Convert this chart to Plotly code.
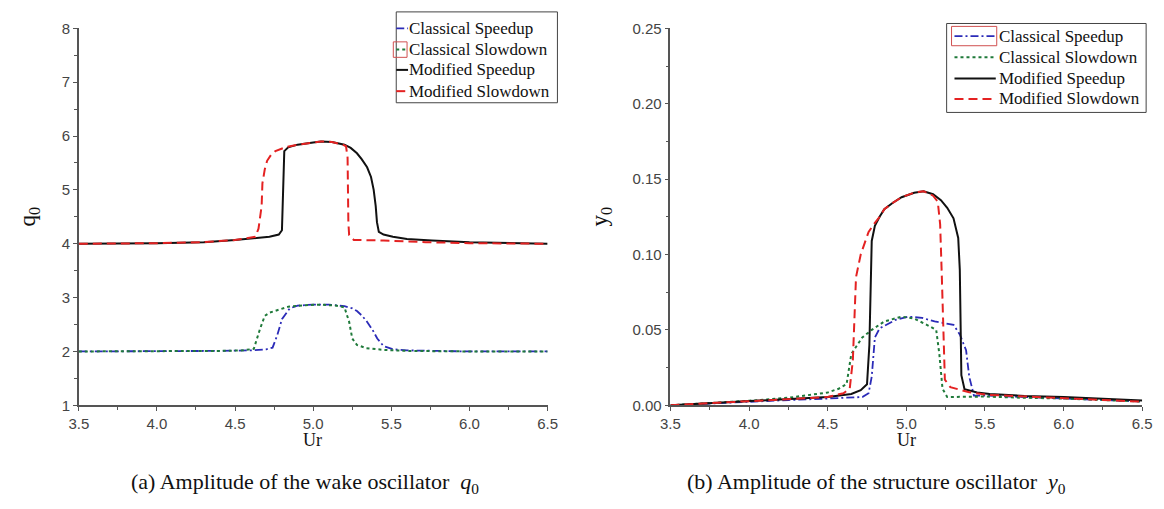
import plotly.graph_objects as go

# ---------------- data: (a) wake oscillator amplitude q0 ----------------
q_cls_up_x = [3.5, 4.0, 4.4, 4.6, 4.7, 4.74, 4.77, 4.8, 4.85, 4.9, 5.0, 5.1, 5.2, 5.25, 5.28, 5.31, 5.34, 5.38, 5.41, 5.45, 5.51, 5.6, 6.0, 6.5]
q_cls_up_y = [2.0, 2.0, 2.01, 2.02, 2.04, 2.07, 2.3, 2.6, 2.8, 2.85, 2.87, 2.87, 2.84, 2.8, 2.75, 2.67, 2.57, 2.4, 2.24, 2.10, 2.04, 2.02, 2.0, 2.0]

q_cls_down_x = [3.5, 4.0, 4.4, 4.55, 4.62, 4.66, 4.69, 4.72, 4.76, 4.84, 4.95, 5.05, 5.15, 5.2, 5.23, 5.25, 5.28, 5.34, 5.45, 5.6, 6.0, 6.5]
q_cls_down_y = [2.0, 2.0, 2.01, 2.02, 2.05, 2.42, 2.66, 2.72, 2.76, 2.83, 2.86, 2.87, 2.85, 2.82, 2.55, 2.24, 2.12, 2.06, 2.03, 2.01, 2.0, 2.0]

q_mod_up_x = [3.5, 4.0, 4.3, 4.5, 4.72, 4.78, 4.80, 4.815, 4.84, 4.9, 5.0, 5.05, 5.12, 5.2, 5.24, 5.28, 5.31, 5.345, 5.37, 5.387, 5.40, 5.408, 5.42, 5.45, 5.51, 5.6, 5.76, 6.0, 6.5]
q_mod_up_y = [4.0, 4.01, 4.03, 4.07, 4.13, 4.17, 4.25, 5.72, 5.79, 5.84, 5.88, 5.9, 5.89, 5.84, 5.78, 5.68, 5.57, 5.42, 5.24, 5.0, 4.7, 4.4, 4.22, 4.17, 4.13, 4.09, 4.06, 4.03, 4.0]

q_mod_down_x = [3.5, 4.0, 4.3, 4.5, 4.63, 4.65, 4.67, 4.675, 4.69, 4.705, 4.73, 4.758, 4.82, 4.9, 5.0, 5.05, 5.12, 5.19, 5.21, 5.22, 5.225, 5.23, 5.26, 5.45, 5.72, 6.0, 6.5]
q_mod_down_y = [4.0, 4.01, 4.03, 4.07, 4.13, 4.28, 4.70, 5.12, 5.38, 5.54, 5.65, 5.72, 5.79, 5.84, 5.88, 5.9, 5.89, 5.84, 5.81, 5.60, 4.40, 4.16, 4.07, 4.06, 4.03, 4.01, 4.0]

# ---------------- data: (b) structure oscillator amplitude y0 ----------------
y_cls_up_x = [3.5, 4.0, 4.25, 4.5, 4.72, 4.76, 4.78, 4.80, 4.83, 4.93, 5.01, 5.1, 5.18, 5.3, 5.34, 5.38, 5.40, 5.43, 5.5, 5.75, 6.0, 6.5]
y_cls_up_y = [0.0, 0.0025, 0.0035, 0.0045, 0.0055, 0.008, 0.019, 0.045, 0.051, 0.0566, 0.0588, 0.058, 0.0556, 0.0534, 0.047, 0.0365, 0.019, 0.0064, 0.0065, 0.0055, 0.0045, 0.0025]

y_cls_down_x = [3.5, 4.0, 4.25, 4.5, 4.57, 4.62, 4.65, 4.72, 4.78, 4.86, 4.97, 5.05, 5.13, 5.19, 5.21, 5.23, 5.26, 5.4, 5.5, 5.75, 6.0, 6.5]
y_cls_down_y = [0.0, 0.003, 0.005, 0.0085, 0.011, 0.014, 0.034, 0.045, 0.050, 0.0556, 0.0588, 0.0575, 0.0534, 0.050, 0.034, 0.011, 0.0055, 0.0055, 0.0058, 0.005, 0.0045, 0.0025]

y_mod_up_x = [3.5, 4.0, 4.25, 4.5, 4.65, 4.71, 4.75, 4.765, 4.78, 4.80, 4.83, 4.86, 4.91, 4.97, 5.05, 5.11, 5.17, 5.22, 5.26, 5.30, 5.33, 5.34, 5.35, 5.37, 5.45, 5.53, 5.75, 6.0, 6.5]
y_mod_up_y = [0.0, 0.0025, 0.004, 0.0055, 0.0075, 0.010, 0.014, 0.04, 0.109, 0.119, 0.125, 0.130, 0.134, 0.138, 0.141, 0.142, 0.140, 0.136, 0.131, 0.124, 0.111, 0.09, 0.02, 0.0107, 0.0085, 0.0075, 0.0062, 0.0055, 0.0032]

y_mod_down_x = [3.5, 4.0, 4.25, 4.5, 4.6, 4.64, 4.66, 4.68, 4.71, 4.76, 4.80, 4.83, 4.86, 4.91, 4.97, 5.05, 5.11, 5.17, 5.2, 5.215, 5.225, 5.235, 5.245, 5.28, 5.40, 5.51, 5.95, 6.5]
y_mod_down_y = [0.0, 0.0025, 0.004, 0.0055, 0.008, 0.011, 0.03, 0.085, 0.10, 0.115, 0.121, 0.125, 0.130, 0.134, 0.138, 0.141, 0.142, 0.139, 0.135, 0.12, 0.088, 0.045, 0.017, 0.012, 0.0087, 0.007, 0.005, 0.0024]

series_names = ["Classical Speedup", "Classical Slowdown", "Modified Speedup", "Modified Slowdown"]
x_tick_vals = [3.5, 4.0, 4.5, 5.0, 5.5, 6.0, 6.5]

# ---------------- styling ----------------
W, H = 1164, 509
BLUE, GREEN, BLACK, RED = "#2b2bb8", "#1f7a3a", "#111111", "#e42222"
styles = [
    dict(color=BLUE, width=1.8, dash="8px,3px,2px,3px"),
    dict(color=GREEN, width=2.0, dash="3px,3px"),
    dict(color=BLACK, width=2.0, dash="solid"),
    dict(color=RED, width=2.0, dash="9px,5px"),
]
SERIF = "Liberation Serif"
SANS = "Liberation Sans"
AXIS_GRAY = "#555555"


def px(x):
    return x / W


def py(y):
    return 1 - y / H


fig = go.Figure()

left_sets = [(q_cls_up_x, q_cls_up_y), (q_cls_down_x, q_cls_down_y),
             (q_mod_up_x, q_mod_up_y), (q_mod_down_x, q_mod_down_y)]
right_sets = [(y_cls_up_x, y_cls_up_y), (y_cls_down_x, y_cls_down_y),
              (y_mod_up_x, y_mod_up_y), (y_mod_down_x, y_mod_down_y)]

for (xs, ys), name, st in zip(left_sets, series_names, styles):
    fig.add_trace(go.Scatter(x=xs, y=ys, mode="lines", name=name, line=st,
                             showlegend=False, xaxis="x", yaxis="y"))
for (xs, ys), name, st in zip(right_sets, series_names, styles):
    fig.add_trace(go.Scatter(x=xs, y=ys, mode="lines", name=name, line=st,
                             showlegend=False, xaxis="x2", yaxis="y2"))

y_dom = [py(410), py(20)]
common_axis = dict(showline=True, linecolor=AXIS_GRAY, linewidth=1.5, ticks="outside",
                   ticklen=4, tickwidth=1.3, tickcolor=AXIS_GRAY, showgrid=False,
                   zeroline=False, tickfont=dict(family=SANS, size=15, color="#444444"))

fig.update_layout(
    width=W, height=H, margin=dict(l=0, r=0, t=0, b=0),
    paper_bgcolor="white", plot_bgcolor="white",
    xaxis=dict(domain=[px(70), px(547)], range=[3.5, 6.5], tickvals=x_tick_vals,
               tickformat=".1f", anchor="y",
               minor=dict(ticks="outside", ticklen=3, dtick=0.25, tickcolor=AXIS_GRAY),
               **common_axis),
    yaxis=dict(domain=y_dom, range=[1, 8], dtick=1, anchor="x",
               minor=dict(ticks="outside", ticklen=3, dtick=0.5, tickcolor=AXIS_GRAY),
               **common_axis),
    xaxis2=dict(domain=[px(672), px(1152)], range=[3.5, 6.5], tickvals=x_tick_vals,
                tickformat=".1f", anchor="y2",
                minor=dict(ticks="outside", ticklen=3, dtick=0.25, tickcolor=AXIS_GRAY),
                **common_axis),
    yaxis2=dict(domain=y_dom, range=[0, 0.25], dtick=0.05, tickformat=".2f", anchor="x2",
                minor=dict(ticks="outside", ticklen=3, dtick=0.025, tickcolor=AXIS_GRAY),
                **common_axis),
)

# ---------------- axis titles and captions ----------------
ann = []


def text_at(x, y, txt, size, angle=0, xanchor="center", yanchor="middle"):
    ann.append(dict(x=px(x), y=py(y), xref="paper", yref="paper", text=txt,
                    showarrow=False, textangle=angle, xanchor=xanchor, yanchor=yanchor,
                    borderpad=0, font=dict(family=SERIF, size=size, color="#111111")))


text_at(308, 435, "Ur", 18, yanchor="top")
text_at(912, 435, "Ur", 18, yanchor="top")
text_at(19, 215, "q<sub>0</sub>", 23, angle=-90)
text_at(601, 215, "y<sub>0</sub>", 23, angle=-90)
text_at(300, 490, "(a) Amplitude of the wake oscillator  <i>q</i><sub>0</sub>", 22)
text_at(882, 490, "(b) Amplitude of the structure oscillator  <i>y</i><sub>0</sub>", 22)

# ---------------- legends (one box per panel) ----------------
shapes = []


def legend_box(x0, x1, y0, y1, rows, sample_x0, sample_x1, text_x):
    shapes.append(dict(type="rect", xref="paper", yref="paper",
                       x0=px(x0), x1=px(x1), y0=py(y1), y1=py(y0),
                       line=dict(color="#444444", width=1), fillcolor="white", layer="above"))
    for yc, name, st in zip(rows, series_names, styles):
        shapes.append(dict(type="line", xref="paper", yref="paper",
                           x0=px(sample_x0), x1=px(sample_x1), y0=py(yc), y1=py(yc),
                           line=dict(color=st["color"], width=st["width"], dash=st["dash"]),
                           layer="above"))
        text_at(text_x, yc, name, 17, xanchor="left")


legend_box(393, 557, 3, 97, [20, 42, 63, 85], 393, 405, 405)
legend_box(953, 1156, 15, 107, [28, 50, 72, 93], 961, 1003, 1005)

# selection outlines around one legend sample in each box
shapes.append(dict(type="rect", xref="paper", yref="paper", x0=px(390), x1=px(404),
                   y0=py(50), y1=py(34), line=dict(color="#d05050", width=1), layer="above"))
shapes.append(dict(type="rect", xref="paper", yref="paper", x0=px(958), x1=px(1004),
                   y0=py(38), y1=py(18), line=dict(color="#d05050", width=1), layer="above"))

fig.update_layout(annotations=ann, shapes=shapes)

fig.write_html("out.html")
